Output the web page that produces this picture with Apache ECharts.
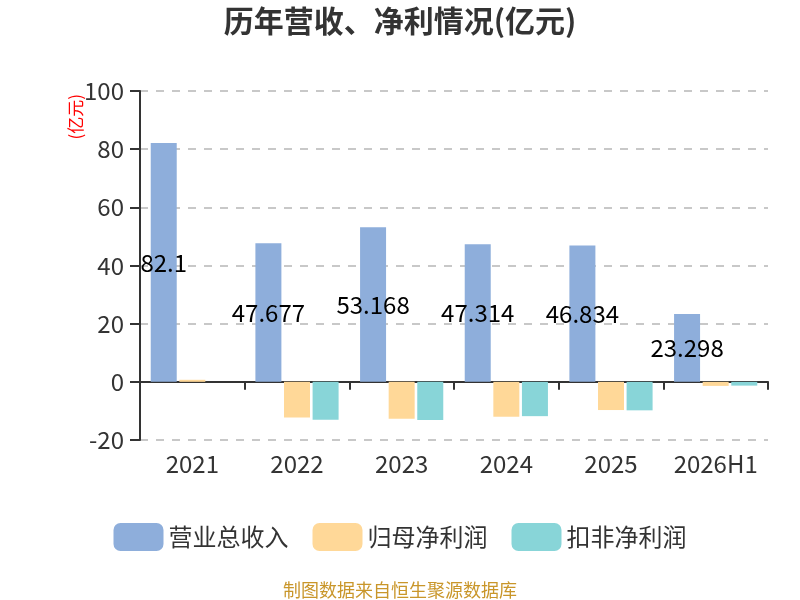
<!DOCTYPE html>
<html>
<head>
<meta charset="utf-8">
<title>历年营收、净利情况</title>
<script src="https://cdn.jsdelivr.net/npm/echarts@6/dist/echarts.min.js"></script>
</head>
<body style="margin: 0;height:100%;">
<div id="main" style="width: 800px;height: 600px;"></div>
<script type="text/javascript">
    // 数据
    var years = ['2021', '2022', '2023', '2024', '2025', '2026H1'];
    var revenue = [82.1, 47.677, 53.168, 47.314, 46.834, 23.298];
    var netProfit = [0.7, -12.3, -12.7, -12.0, -9.7, -1.4];
    var deductedProfit = [0, -13.0, -13.1, -11.8, -9.8, -1.3];
    var yTicks = [-20, 0, 20, 40, 60, 80, 100];

    var myChart = echarts.init(document.getElementById('main'));
    var font = '"Noto Sans CJK SC", "Noto Sans", sans-serif';
    var option = {
        animation: false,
        color: ['#8eaedb', '#ffd898', '#88d5d8'],
        textStyle: {fontFamily: font},
        title: {
            text: '历年营收、净利情况(亿元)',
            left: 'center',
            top: 1,
            textStyle: {fontSize: 30, fontWeight: 'bold', color: '#333'}
        },
        legend: {
            top: 518,
            itemWidth: 50,
            itemHeight: 28,
            itemGap: 24,
            textStyle: {fontSize: 24, color: '#333'},
            data: ['营业总收入', '归母净利润', '扣非净利润']
        },
        grid: {left: 140, right: 32, top: 91, bottom: 160},
        graphic: [
            {
                type: 'text',
                left: 67,
                top: 94,
                rotation: Math.PI / 2,
                style: {text: '(亿元)', fill: '#ff0000', fontSize: 17, fontFamily: font}
            },
            {
                type: 'text',
                left: 'center',
                bottom: 1,
                style: {text: '制图数据来自恒生聚源数据库', fill: '#c9962a', fontSize: 18, fontFamily: font}
            }
        ],
        xAxis: [
            {
                type: 'category',
                data: years,
                position: 'bottom',
                axisLine: {show: false, onZero: false},
                axisTick: {show: false},
                axisLabel: {fontSize: 24, color: '#333', margin: 12, interval: 0}
            },
            {
                type: 'category',
                data: years,
                position: 'bottom',
                axisLine: {onZero: true, lineStyle: {color: '#333', width: 2}},
                axisTick: {show: true, length: 8, interval: 0, lineStyle: {color: '#333', width: 2}},
                axisLabel: {show: false}
            }
        ],
        yAxis: {
            type: 'value',
            min: yTicks[0],
            max: yTicks[yTicks.length - 1],
            interval: 20,
            axisLine: {show: true, lineStyle: {color: '#333', width: 2}},
            axisTick: {show: true, length: 10, lineStyle: {color: '#333', width: 2}},
            axisLabel: {fontSize: 24, color: '#333', margin: 16},
            splitLine: {lineStyle: {type: [8, 8], color: '#c8c8c8', width: 2}}
        },
        series: [
            {
                name: '营业总收入',
                type: 'bar',
                data: revenue,
                barWidth: 26,
                barGap: '10%',
                label: {show: true, position: 'inside', fontSize: 24, color: '#000'}
            },
            {
                name: '归母净利润',
                type: 'bar',
                data: netProfit,
                barWidth: 26,
                barGap: '10%'
            },
            {
                name: '扣非净利润',
                type: 'bar',
                data: deductedProfit,
                barWidth: 26,
                barGap: '10%'
            }
        ]
    };
    myChart.setOption(option);
</script>
</body>
</html>
